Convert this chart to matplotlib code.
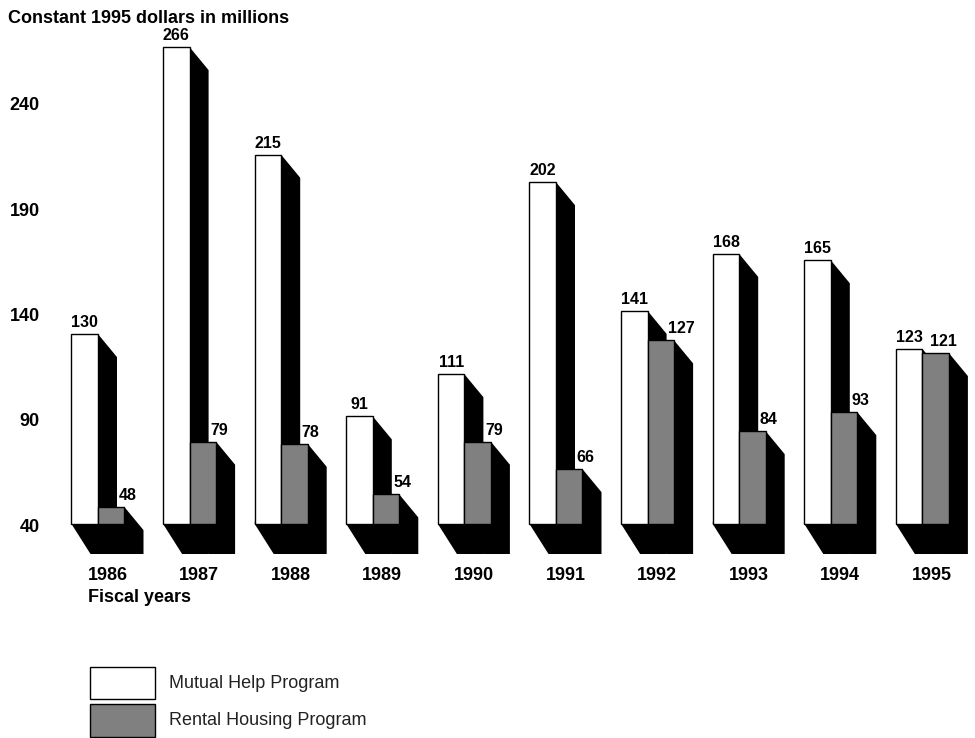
import matplotlib
matplotlib.use("Agg")
import matplotlib.pyplot as plt
from matplotlib.patches import Polygon, Rectangle

plt.rcParams['font.family'] = ['Liberation Sans', 'DejaVu Sans']

years = ['1986', '1987', '1988', '1989', '1990', '1991', '1992', '1993', '1994', '1995']
mutual_help = [130, 266, 215, 91, 111, 202, 141, 168, 165, 123]
rental_housing = [48, 79, 78, 54, 79, 66, 127, 84, 93, 121]
y_ticks = [40, 90, 140, 190, 240]
baseline = 40

W, H = 975, 738
fig = plt.figure(figsize=(W / 100, H / 100), dpi=100)
ax = fig.add_axes([0, 0, 1, 1])
ax.set_axis_off()

# scale: one group step is 91.6 px, one value unit is 2.11 px
px_x = 1 / 91.6
px_y = 1 / 2.11
ax.set_xlim(-98 * px_x, (W - 98) * px_x)
ax.set_ylim(baseline - (H - 524) * px_y, baseline + 524 * px_y)

bw = 26.5 * px_x           # bar width
sdx = 19 * px_x            # shadow horizontal depth
sdy_top = 23 * px_y        # shadow drop at the bar top
sdy_bot = 30 * px_y        # shadow drop at the floor

# horizontal nudge (px) of the rental value labels from the bar's right edge
rental_label_shift = [-6, -6, -6, -6, -6, -6, -6, -6, -6, -19]


def draw_bar(x0, value, color):
    x1 = x0 + bw
    shadow = Polygon([(x1, value), (x1 + sdx, value - sdy_top),
                      (x1 + sdx, baseline - sdy_bot), (x0 + sdx, baseline - sdy_bot),
                      (x0, baseline)], closed=True, facecolor='black',
                     edgecolor='none', zorder=1)
    ax.add_patch(shadow)
    ax.add_patch(Rectangle((x0, baseline), bw, value - baseline, facecolor=color,
                           edgecolor='black', linewidth=1.0, zorder=2))


for i, (m, r) in enumerate(zip(mutual_help, rental_housing)):
    draw_bar(i - bw, m, 'white')
    draw_bar(i, r, '#808080')
    ax.text(i - bw / 2, m + 4 * px_y, str(m), ha='center', va='bottom',
            fontsize=11.5, fontweight='bold', zorder=5)
    ax.text(i + bw + rental_label_shift[i] * px_x, r + 4 * px_y, str(r),
            ha='left', va='bottom', fontsize=11.5, fontweight='bold', zorder=5)
    ax.text(i + 9.5 * px_x, baseline - 56 * px_y, years[i], ha='center',
            va='baseline', fontsize=13, fontweight='bold')

for t in y_ticks:
    ax.text(-58 * px_x, t - 3.5 * px_y, str(t), ha='right', va='center',
            fontsize=13, fontweight='bold')

ax.text(-10 * px_x, baseline - 78 * px_y, 'Fiscal years', ha='left',
        va='baseline', fontsize=13, fontweight='bold')

fig.text(8 / W, 1 - 23 / H, 'Constant 1995 dollars in millions', ha='left',
         va='baseline', fontsize=13, fontweight='bold')

# legend
legend_items = [('Mutual Help Program', 'white', 667, 699),
                ('Rental Housing Program', '#808080', 704, 737)]
for label, color, top, bot in legend_items:
    fig.patches.append(Rectangle((90 / W, 1 - bot / H), 65 / W, (bot - top) / H,
                                 facecolor=color, edgecolor='black', linewidth=1.0,
                                 transform=fig.transFigure, figure=fig))
    fig.text(169 / W, 1 - ((top + bot) / 2) / H, label, ha='left', va='center',
             fontsize=13, color='#222222')

fig.savefig('out.png', dpi=100)
